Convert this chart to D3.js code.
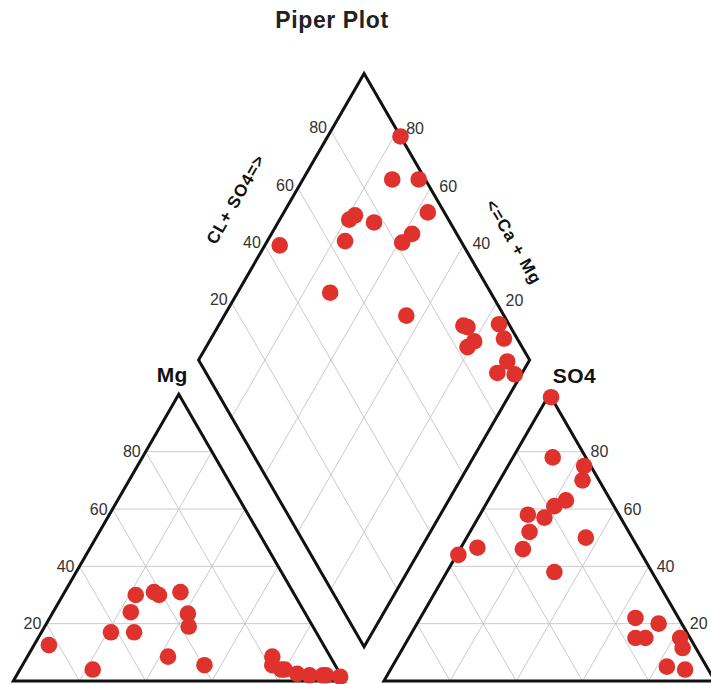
<!DOCTYPE html>
<html>
<head>
<meta charset="utf-8">
<script src="https://cdn.jsdelivr.net/npm/d3@7"></script>
<style>
  html, body { margin: 0; padding: 0; background: #fff; overflow: hidden; }
  svg { display: block; }
</style>
</head>
<body>
<svg id="chart" width="711" height="684"></svg>
<script>
// Major ion composition of each water sample, percent of meq/L
// Cations
const ca  = [74, 42, 34, 37.5, 48, 62, 41, 52.5, 49, 35.5, 83, 55, 39.5, 17.5, 19, 16, 17, 13, 9.5, 4.5, 5.5, 0.5];
const mg  = [4, 31, 31, 19, 30, 17, 30, 24, 8.5, 23.5, 12.5, 17, 5.5, 8.5, 5.5, 4, 4, 2.5, 2, 2, 2, 1.5];
const naK = [22, 27, 35, 43.5, 22, 21, 29, 23.5, 42.5, 41, 4.5, 28, 55, 74, 75.5, 80, 79, 84.5, 88.5, 93.5, 92.5, 98];
// Anions
const hco3 = [0, 10, 2, 5, 27.5, 30, 23, 35, 13.5, 18, 55.5, 48.5, 29.5, 14, 13, 13.5, 16.5, 3, 4, 7, 12, 7];
const so4  = [99, 78, 75, 70, 58, 52, 57, 46, 63, 61, 44, 46.5, 38, 50, 22, 15, 15, 15, 11.5, 4, 5, 20];
const cl   = [1, 12, 23, 25, 14.5, 18, 20, 19, 23.5, 21, 0.5, 5, 32.5, 36, 65, 71.5, 68.5, 82, 84.5, 89, 83, 73];

const tickValues = [20, 40, 60, 80];
const chartTitle = "Piper Plot";
const cationApexLabel = "Mg";
const anionApexLabel = "SO4";
const diamondLeftLabel = "CL+ SO4=>";
const diamondRightLabel = "<=Ca + Mg";

// ---- layout ----
const side = 331;            // side length of each triangle / diamond
const gap = 39.6;            // horizontal gap between the two triangles
const baseY = 681;           // baseline of both triangles
const leftX0 = 13.3;         // bottom-left corner of the cation triangle
const rightX0 = leftX0 + side + gap;
const S60 = Math.sqrt(3) / 2;

const pct = d3.scaleLinear().domain([0, 100]).range([0, side]);

// ternary point: r = component toward the right corner, t = component toward the apex
function tri(x0, r, t) {
  return [x0 + pct(r) + pct(t) / 2, baseY - pct(t) * S60];
}
// diamond point: a = Cl+SO4, b = Ca+Mg
const dBottom = [leftX0 + side + gap / 2, baseY - (gap / 2) * Math.sqrt(3)];
function dia(a, b) {
  return [dBottom[0] + (pct(a) - pct(b)) / 2, dBottom[1] - (pct(a) + pct(b)) * S60];
}

const svg = d3.select("#chart");
const gridColor = "#c4c4c4";
const line = d3.line();

const gGrid = svg.append("g").attr("fill", "none").attr("stroke", gridColor).attr("stroke-width", 0.9);

// triangle grids
[leftX0, rightX0].forEach(x0 => {
  tickValues.forEach(t => {
    gGrid.append("path").attr("d", line([tri(x0, 0, t), tri(x0, 100 - t, t)]));      // constant apex component
    gGrid.append("path").attr("d", line([tri(x0, t, 0), tri(x0, t, 100 - t)]));      // constant right component
    gGrid.append("path").attr("d", line([tri(x0, 100 - t, 0), tri(x0, 0, 100 - t)])); // constant left component
  });
});
// diamond grid
tickValues.forEach(t => {
  gGrid.append("path").attr("d", line([dia(t, 0), dia(t, 100)]));
  gGrid.append("path").attr("d", line([dia(0, t), dia(100, t)]));
});

// outlines
const gFrame = svg.append("g").attr("fill", "none").attr("stroke", "#111")
  .attr("stroke-width", 3).attr("stroke-linejoin", "miter");
[leftX0, rightX0].forEach(x0 => {
  gFrame.append("path").attr("d", line([tri(x0, 0, 0), tri(x0, 100, 0), tri(x0, 0, 100)]) + "Z");
});
gFrame.append("path").attr("d", line([dia(0, 0), dia(100, 0), dia(100, 100), dia(0, 100)]) + "Z");

// tick labels
const gTick = svg.append("g").attr("font-family", "'Liberation Sans', Arial, sans-serif")
  .attr("font-size", 16).attr("fill", "#333");
tickValues.forEach(t => {
  const pL = tri(leftX0, 0, t);                 // Mg axis, left edge of cation triangle
  gTick.append("text").attr("x", pL[0] - 5).attr("y", pL[1]).attr("dy", "0.35em")
    .attr("text-anchor", "end").text(t);
  const pR = tri(rightX0, 100 - t, t);          // SO4 axis, right edge of anion triangle
  gTick.append("text").attr("x", pR[0] + 8).attr("y", pR[1]).attr("dy", "0.35em")
    .attr("text-anchor", "start").text(t);
  const pDL = dia(t, 100);                      // Cl+SO4 axis, upper-left edge of diamond
  gTick.append("text").attr("x", pDL[0] - 4).attr("y", pDL[1] - 3).attr("dy", "0.35em")
    .attr("text-anchor", "end").text(t);
  const pDR = dia(100, t);                      // Ca+Mg axis, upper-right edge of diamond
  gTick.append("text").attr("x", pDR[0] + 9).attr("y", pDR[1] - 2).attr("dy", "0.35em")
    .attr("text-anchor", "start").text(t);
});

// axis titles
const bold = { family: "'Liberation Sans', Arial, sans-serif", weight: "bold" };
const apexL = tri(leftX0, 0, 100);
const apexR = tri(rightX0, 0, 100);
svg.append("text").attr("x", apexL[0] - 6.5).attr("y", apexL[1] - 12)
  .attr("text-anchor", "middle").attr("font-family", bold.family).attr("font-weight", bold.weight)
  .attr("font-size", 21).attr("letter-spacing", 0.5).attr("fill", "#111").text(cationApexLabel);
svg.append("text").attr("x", apexR[0] + 25).attr("y", apexR[1] - 11)
  .attr("text-anchor", "middle").attr("font-family", bold.family).attr("font-weight", bold.weight)
  .attr("font-size", 21).attr("letter-spacing", 0.5).attr("fill", "#111").text(anionApexLabel);

// rotated diamond axis titles
function edgeLabel(pt, normal, dist, angle, txt) {
  const cx = pt[0] + normal[0] * dist, cy = pt[1] + normal[1] * dist;
  svg.append("text")
    .attr("transform", `translate(${cx},${cy}) rotate(${angle})`)
    .attr("text-anchor", "middle").attr("dominant-baseline", "central")
    .attr("font-family", bold.family).attr("font-weight", bold.weight)
    .attr("font-size", 17).attr("letter-spacing", 1).attr("fill", "#111").text(txt);
}
edgeLabel(dia(47.7, 100), [-S60, -0.5], 48, -60, diamondLeftLabel);
edgeLabel(dia(100, 33.3), [S60, -0.5], 45, 60, diamondRightLabel);

// chart title
svg.append("text").attr("x", 332).attr("y", 28).attr("text-anchor", "middle")
  .attr("font-family", bold.family).attr("font-weight", bold.weight)
  .attr("font-size", 23).attr("letter-spacing", 0.6).attr("fill", "#222").text(chartTitle);

// samples
const samples = d3.range(ca.length).map(i => ({
  cat: tri(leftX0, naK[i], mg[i]),
  an: tri(rightX0, cl[i], so4[i]),
  dm: dia(so4[i] + cl[i], ca[i] + mg[i])
}));
const pointColor = "#e0322c";
const gPts = svg.append("g").attr("fill", pointColor);
["cat", "an", "dm"].forEach(k => {
  gPts.selectAll(null).data(samples).join("circle")
    .attr("cx", d => d[k][0]).attr("cy", d => d[k][1]).attr("r", 8.3);
});
</script>
</body>
</html>
